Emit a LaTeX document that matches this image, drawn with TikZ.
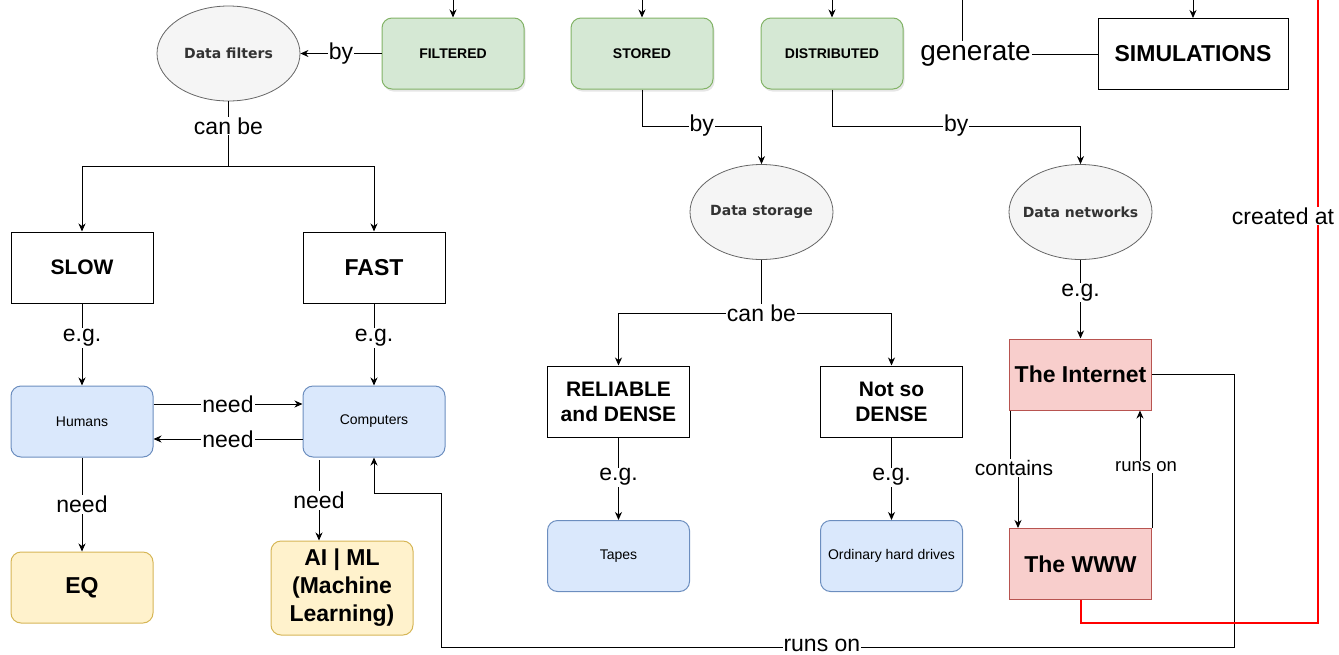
\documentclass[tikz,border=0pt]{standalone}
\usepackage{fontspec}
\setmainfont{Liberation Sans}
\newfontfamily\ellfont{DejaVu Sans}
\usetikzlibrary{arrows.meta,shapes.geometric,shadows}

\definecolor{greenfill}{HTML}{D5E8D4}
\definecolor{greenline}{HTML}{82B366}
\definecolor{bluefill}{HTML}{DAE8FC}
\definecolor{blueline}{HTML}{6C8EBF}
\definecolor{yellowfill}{HTML}{FFF2CC}
\definecolor{yellowline}{HTML}{D6B656}
\definecolor{redfill}{HTML}{F8CECC}
\definecolor{redline}{HTML}{B85450}
\definecolor{ellfill}{HTML}{F5F5F5}
\definecolor{ellline}{HTML}{666666}
\definecolor{elltext}{HTML}{333333}
\definecolor{wirered}{HTML}{FF0000}

\tikzset{
    box/.style = {draw = black, line width = 1pt, minimum width = 142pt,
                  minimum height = 71pt, align = center, inner sep = 2pt,
                  font = \fontsize{21}{25}\selectfont\bfseries},
    greenbox/.style = {box, rounded corners = 10pt, fill = greenfill,
                       draw = greenline,
                       font = \fontsize{14}{17}\selectfont\bfseries,
                       drop shadow = {shadow xshift = 1.5pt,
                                      shadow yshift = -2.5pt,
                                      opacity = 0.2}},
    bluebox/.style = {box, rounded corners = 10pt, fill = bluefill,
                      draw = blueline, font = \fontsize{14}{17}\selectfont},
    yellowbox/.style = {box, rounded corners = 10pt, fill = yellowfill,
                        draw = yellowline,
                        font = \fontsize{23}{28}\selectfont\bfseries},
    redbox/.style = {box, fill = redfill, draw = redline,
                     font = \fontsize{23}{28}\selectfont\bfseries},
    cloud/.style = {ellipse, draw = ellline, fill = ellfill, line width = 0.8pt,
                    minimum width = 143pt, minimum height = 95pt,
                    inner xsep = -8pt, inner ysep = 0pt,
                    text = elltext, font = \ellfont\fontsize{14}{17}\selectfont\bfseries},
    link/.style = {draw, line width = 1pt, -{Stealth[length = 8pt, width = 7pt, inset = 2.5pt]}},
    wire/.style = {draw, line width = 1pt},
    lbl/.style = {fill = white, inner sep = 1pt,
                  font = \fontsize{23}{27}\selectfont},
}

\begin{document}
\begin{tikzpicture}[x = 1pt, y = -1pt]
    \useasboundingbox (0, 0) rectangle (1339, 654);

    % top row
    \node[greenbox] (filt) at (453, 53.5) {FILTERED};
    \node[greenbox] (stor) at (642, 53.5) {STORED};
    \node[greenbox] (dist) at (832, 53.5) {DISTRIBUTED};
    \node[box, minimum width = 190pt, font = \fontsize{23}{27}\selectfont\bfseries]
          (sim) at (1193, 54) {SIMULATIONS};

    % ellipses
    \node[cloud] (dfil) at (228.5, 53.5) {Data filters};
    \node[cloud] (dsto) at (761.5, 212) {Data storage};
    \node[cloud] (dnet) at (1080.5, 212) {Data networks};

    % left branch
    \node[box] (slow) at (82, 267.5) {SLOW};
    \node[box, font = \fontsize{23}{27}\selectfont\bfseries] (fast) at (374, 267.5) {FAST};
    \node[bluebox] (hum) at (82, 421.5) {Humans};
    \node[bluebox] (comp) at (374, 421.5) {Computers};
    \node[yellowbox] (eq) at (82, 587.5) {EQ};
    \node[yellowbox, minimum height = 94pt] (aiml) at (342, 588)
          {AI | ML\\(Machine\\Learning)};

    % middle branch
    \node[box] (rel) at (618.5, 401.5) {RELIABLE\\and DENSE};
    \node[box] (notso) at (891.5, 401.5) {Not so\\DENSE};
    \node[bluebox] (tape) at (618.5, 556) {Tapes};
    \node[bluebox] (hdd) at (891.5, 556) {Ordinary hard drives};

    % right branch
    \node[redbox] (inet) at (1080.5, 374.5) {The Internet};
    \node[redbox] (www) at (1080.5, 564) {The WWW};

    % free ends and bends
    \coordinate (tfilt) at (453, 0);
    \coordinate (tstor) at (642, 0);
    \coordinate (tdist) at (832, 0);
    \coordinate (tgen) at (962, 0);
    \coordinate (tsim) at (1193, 0);
    \coordinate (tred) at (1318, 0);
    \coordinate (rbend) at (1318, 623);
    \coordinate (fsplit) at (228.5, 166);
    \coordinate (ssplit) at (761.5, 313);
    \coordinate (sbend) at (761.5, 126);
    \coordinate (dbend) at (1080.5, 126);
    \coordinate (cneed) at (319, 460);
    \coordinate (cjog) at (1014, 468);
    \coordinate (rjog) at (1146, 467);
    \coordinate (lp1) at (1234.5, 647);
    \coordinate (lp2) at (441, 493);

    \draw[link] (tfilt) -- (filt);
    \draw[link] (tstor) -- (stor);
    \draw[link] (tdist) -- (dist);
    \draw[link] (tsim) -- (sim);
    \draw[wire] (tgen) |- node[lbl, pos = 0.55, font = \fontsize{28}{32}\selectfont]
          {generate} (sim);

    \draw[link] (filt) -- node[lbl] {by} (dfil);
    \draw[wire] (dfil) -- node[lbl, pos = 0.38] {can be} (fsplit);
    \draw[link] (fsplit) -| (slow);
    \draw[link] (fsplit) -| (fast);

    \draw[link] (slow) -- node[lbl, pos = 0.42] {e.g.} (hum);
    \draw[link] (fast) -- node[lbl, pos = 0.42] {e.g.} (comp);
    \draw[link] ([yshift = 17.5pt]hum.east) -- node[lbl] {need}
          ([yshift = 17.5pt]comp.west);
    \draw[link] ([yshift = -17.5pt]comp.west) -- node[lbl] {need}
          ([yshift = -17.5pt]hum.east);
    \draw[link] (hum) -- node[lbl] {need} (eq);
    \draw[link] (cneed) -- node[lbl] {need} (cneed |- aiml.north);

    \draw[link] (stor.south) |- node[lbl, pos = 0.75] {by} (sbend) -- (dsto);
    \draw[link] (dist.south) |- node[lbl, pos = 0.75] {by} (dbend) -- (dnet);

    \draw[wire] (dsto) -- (ssplit);
    \draw[link] (ssplit) -| (rel);
    \draw[link] (ssplit) -| (notso);
    \node[lbl] (scan) at (ssplit) {can be};
    \draw[link] (rel) -- node[lbl, pos = 0.48] {e.g.} (tape);
    \draw[link] (notso) -- node[lbl, pos = 0.48] {e.g.} (hdd);

    \draw[link] (dnet) -- node[lbl, pos = 0.42] {e.g.} (inet);
    \draw[link] ([xshift = 1pt]inet.south west) |- (cjog)
          -| ([xshift = 9pt]www.north west);
    \node[lbl, font = \fontsize{21}{25}\selectfont] (cont) at (cjog) {contains};
    \draw[link] (www.north east) |- (rjog) -| ([xshift = -12pt]inet.south east);
    \node[lbl, font = \fontsize{18.5}{22}\selectfont] (runs) at (rjog) {runs on};

    % long loop back to the computers
    \draw[link] (inet.east) -| (lp1) -| node[lbl, pos = 0.26, yshift = 2pt] {runs on} (lp2)
          -| (comp.south);

    % red wire
    \draw[wirered, line width = 2pt] (www.south) |- (rbend) -- (tred);
    \node[lbl] (creat) at (1283, 216) {created at};
\end{tikzpicture}
\end{document}
